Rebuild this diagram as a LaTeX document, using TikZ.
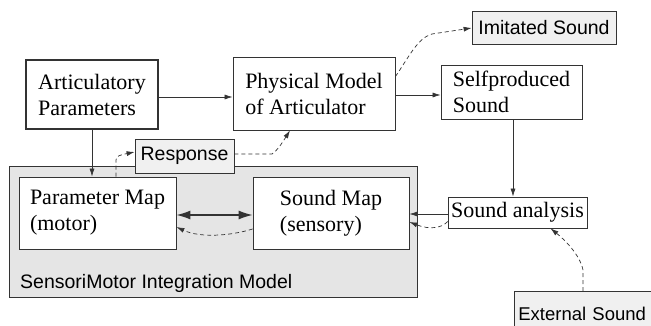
\documentclass[tikz,border=0pt]{standalone}
\usepackage{fontspec}
\setmainfont{Liberation Serif}
\newfontfamily\labfont{Liberation Sans}
\usetikzlibrary{arrows.meta,calc}
\begin{document}
\begin{tikzpicture}[x=1pt,y=-1pt,
  line col/.style={draw=black!80},
  boxnode/.style={line col,line width=0.8pt,fill=white,align=left,inner sep=0pt,
    font=\fontsize{22}{26}\selectfont},
  labnode/.style={line col,line width=0.8pt,fill=black!6,inner sep=0pt,
    font=\labfont\fontsize{19.5}{22}\selectfont},
  arr/.style={line col,line width=0.7pt,-{Latex[length=8pt,width=5pt]}},
  darr/.style={arr,dashed,dash pattern=on 4pt off 3pt},
]
\useasboundingbox (0,0) rectangle (651,325);
% gray integration box
\node[line col,line width=0.8pt,fill=black!10,minimum width=408pt,minimum height=131pt,
  inner sep=0pt,anchor=north west] (smi) at (9,166) {};
\node[anchor=west,inner sep=0pt,font=\labfont\fontsize{19.5}{22}\selectfont] (smilab) at (20,283) {SensoriMotor Integration Model};
% boxes
\node[boxnode,line width=1.6pt,minimum width=132pt,minimum height=69pt] (art) at (92,94.5) {Articulatory\\Parameters};
\node[boxnode,minimum width=162pt,minimum height=73pt] (phys) at (314,93.5) {Physical Model\\of Articulator};
\node[boxnode,minimum width=141pt,minimum height=54pt] (self) at (511.5,92) {Selfproduced\\Sound};
\node[labnode,minimum width=144pt,minimum height=33pt] (imit) at (544,27.5) {Imitated Sound};
\node[labnode,minimum width=99pt,minimum height=34pt] (resp) at (184.5,156) {Response};
\node[boxnode,minimum width=157pt,minimum height=72pt] (pmap) at (97.5,213) {Parameter Map\\(motor)};
\node[boxnode,minimum width=156pt,minimum height=72pt] (smap) at (331,213) {Sound Map\\(sensory)};
\node[boxnode,minimum width=139pt,minimum height=31pt] (sana) at (517.5,212.5) {Sound analysis};
\node[labnode,minimum height=44pt,anchor=north west,text width=170pt,align=left,
  font=\labfont\fontsize{18.5}{22}\selectfont] (ext) at (514,291) {\hspace*{4pt}External Sound};
% solid arrows
\draw[arr] (art.east |- 0,97) -- (phys.west |- 0,97);
\draw[arr] (phys.east |- 0,95) -- (self.west |- 0,95);
\draw[arr] (self.south -| 513,0) -- (sana.north -| 513,0);
\draw[arr] (sana.west |- 0,214) -- (smap.east |- 0,214);
\draw[arr] (art.south -| 92,0) -- (pmap.north -| 92,0);
\draw[line col,line width=1.3pt,{Latex[length=14pt,width=9pt]}-{Latex[length=14pt,width=9pt]}]
  (pmap.east |- 0,215) -- (smap.west |- 0,215);
% dashed arrows
\draw[darr] ($(phys.north east)+(0,20)$) .. controls (410,55) and (418,38) .. (432,34) -- (imit.west |- 0,28);
\draw[darr] (pmap.north -| 116,0) -- (116,160) .. controls (116,156) and (120,155) .. (resp.west |- 0,152);
\draw[darr] (resp.east |- 0,154) -- (272,154) .. controls (278,150) and (284,140) .. ($(phys.south)+(-24,0)$);
\draw[darr] ($(sana.west)+(0,9)$) .. controls (442,228) and (430,230) .. ($(smap.east)+(0,9)$);
\draw[darr] ($(smap.west)+(0,16)$) .. controls (230,236) and (200,238) .. ($(pmap.east)+(0,14)$);
\draw[darr] (ext.north -| 583,0) -- (583,270) .. controls (580,255) and (565,240) .. ($(sana.south)+(33,0)$);
\end{tikzpicture}
\end{document}
